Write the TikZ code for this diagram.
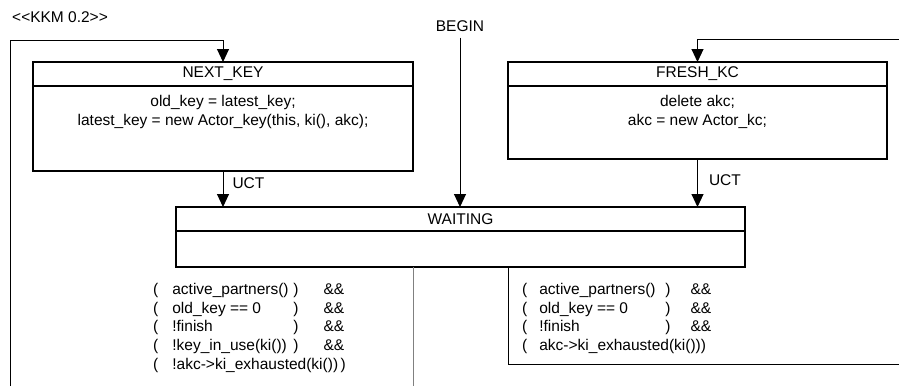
\documentclass[tikz,border=0pt]{standalone}
\usepackage{fontspec}
\setmainfont{Liberation Sans}
\usetikzlibrary{arrows.meta}
\usetikzlibrary{positioning}

\tikzset{
  statehead/.style={draw,line width=1.9pt,minimum height=24pt,inner sep=0pt,outer sep=0pt},
  statebody/.style={draw,line width=1.9pt,inner sep=0pt,outer sep=0pt},
  flow/.style={line width=1pt,-{Triangle[length=13pt,width=12pt]}},
  wire/.style={line width=1pt},
}

\begin{document}
\begin{tikzpicture}[x=1pt,y=-1pt,font=\fontsize{15.5}{18.8}\selectfont]
    \useasboundingbox (0,0) rectangle (899,386);
    \node[anchor=west,inner sep=0pt] (stereo) at (12,17) {<{}<KKM 0.2>{}>};

    % states
    \node[statehead,minimum width=380pt] (nextkey) at (223,74) {NEXT\_KEY};
    \node[statebody,minimum width=380pt,minimum height=85pt,below=0pt of nextkey] (nextkeyb) {};
    \node[below=9pt of nextkeyb.north,align=center,inner sep=0pt] (nextkeyt)
      {old\_key = latest\_key;\\latest\_key = new Actor\_key(this, ki(), akc);};

    \node[statehead,minimum width=379pt] (freshkc) at (697.5,74) {FRESH\_KC};
    \node[statebody,minimum width=379pt,minimum height=73pt,below=0pt of freshkc] (freshkcb) {};
    \node[below=9pt of freshkcb.north,align=center,inner sep=0pt] (freshkct)
      {delete akc;\\akc = new Actor\_kc;};

    \node[statehead,minimum width=569pt] (waiting) at (460.5,219) {WAITING};
    \node[statebody,minimum width=569pt,minimum height=36pt,below=0pt of waiting] (waitingb) {};

    % transitions
    \node[inner sep=6pt] (begin) at (460,26) {BEGIN};
    \draw[flow] (begin) -- (begin |- waiting.north);

    \draw[flow] (nextkeyb.south) -- (nextkeyb.south |- waiting.north)
      node[pos=0.33,right=9pt,inner sep=0pt] {UCT};
    \draw[flow] (freshkcb.south) -- (freshkcb.south |- waiting.north)
      node[pos=0.44,right=11pt,inner sep=0pt] {UCT};

    \coordinate (loopl) at (10,386);
    \coordinate (loopr) at (899,39);
    \draw[flow] (loopl) |- ([yshift=22pt]nextkey.north) -- (nextkey.north);
    \draw[flow] (loopr) -| (freshkc.north);

    \coordinate (exitl) at (413,386);
    \coordinate (bendr) at (508,364);
    \coordinate (exitr) at (899,364);
    \draw[wire,gray] (waitingb.south -| exitl) -- (exitl);
    \draw[wire] (waitingb.south -| bendr) -- (bendr) -- (exitr);

    % guards
    \node[anchor=north west,inner sep=0pt] (guardl) at (153,281) {%
      \begin{tabular}{@{}l@{\hspace{14pt}}p{121pt}@{}l@{\hspace{25pt}}l@{}}
        ( & active\_partners() & ) & \&\& \\
        ( & old\_key == 0 & ) & \&\& \\
        ( & !finish & ) & \&\& \\
        ( & !key\_in\_use(ki()) & ) & \&\& \\
        ( & \multicolumn{3}{@{}l@{}}{!akc->ki\_exhausted(ki())\,)} \\
      \end{tabular}};
    \node[anchor=north west,inner sep=0pt] (guardr) at (522,281) {%
      \begin{tabular}{@{}l@{\hspace{12pt}}p{126pt}@{}l@{\hspace{20pt}}l@{}}
        ( & active\_partners() & ) & \&\& \\
        ( & old\_key == 0 & ) & \&\& \\
        ( & !finish & ) & \&\& \\
        ( & \multicolumn{3}{@{}l@{}}{akc->ki\_exhausted(ki()))} \\
      \end{tabular}};
\end{tikzpicture}
\end{document}
